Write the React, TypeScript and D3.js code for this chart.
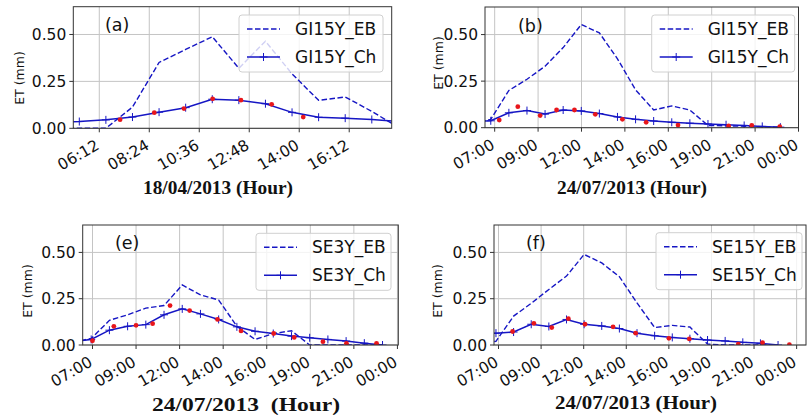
import React from "react";
import * as d3 from "d3";

// ---------- tick labels ----------
const ticksA = ["06:12", "08:24", "10:36", "12:48", "14:00", "16:12"];
const ticksDay = ["07:00", "09:00", "12:00", "14:00", "16:00", "19:00", "21:00", "00:00"];
const yTicks = [0, 0.25, 0.5];

// ---------- panel (a) 18/04/2013 ----------
const xA = [-0.932, -0.4, 0.132, 0.664, 1.196, 1.728, 2.26, 2.792, 3.324, 3.856, 4.388, 4.92, 5.452, 5.984];
const ebA = [0, 0, 0, 0.113, 0.351, 0.42, 0.488, 0.32, 0.464, 0.29, 0.149, 0.167, 0.09, 0.005];
const chA = [0.034, 0.036, 0.045, 0.06, 0.086, 0.11, 0.155, 0.15, 0.131, 0.085, 0.059, 0.054, 0.047, 0.036];
const obsXA = [0.416, 1.1, 1.694, 2.268, 2.834, 3.448, 4.08];
const obsA = [0.046, 0.083, 0.105, 0.157, 0.15, 0.128, 0.06];

// ---------- panel (b) 24/07/2013 GI15Y ----------
const xB = [-0.507, -0.09, 0.327, 0.744, 1.161, 1.578, 1.995, 2.412, 2.829, 3.246, 3.663, 4.08, 4.497, 4.914, 5.331, 5.748, 6.165, 6.582];
const ebB = [0.02, 0.045, 0.2, 0.26, 0.33, 0.43, 0.554, 0.509, 0.37, 0.203, 0.095, 0.117, 0.095, 0.012, 0.01, 0.008, 0.005, 0.003];
const chB = [0.035, 0.037, 0.08, 0.092, 0.073, 0.095, 0.09, 0.076, 0.058, 0.045, 0.036, 0.029, 0.024, 0.02, 0.016, 0.012, 0.007, 0.003];
const obsXB = [0.105, 0.533, 1.048, 1.426, 1.838, 2.318, 2.943, 3.49, 4.224, 5.39, 5.923, 6.568];
const obsB = [0.041, 0.113, 0.065, 0.095, 0.095, 0.072, 0.045, 0.029, 0.014, 0.009, 0.013, 0.005];

// ---------- panel (e) 24/07/2013 SE3Y ----------
const xE = [-0.448, -0.03, 0.388, 0.806, 1.224, 1.642, 2.06, 2.478, 2.896, 3.314, 3.732, 4.15, 4.568, 4.986, 5.404, 5.822, 6.24, 6.658];
const ebE = [0.015, 0.035, 0.133, 0.163, 0.199, 0.213, 0.324, 0.271, 0.243, 0.101, 0.03, 0.062, 0.077, 0, 0, 0, 0, 0];
const chE = [0.018, 0.03, 0.08, 0.101, 0.11, 0.163, 0.195, 0.168, 0.138, 0.098, 0.074, 0.062, 0.048, 0.039, 0.03, 0.021, 0.01, 0];
const obsXE = [0.0, 0.49, 1.0, 1.38, 1.78, 2.23, 2.87, 3.41, 4.16, 4.63, 5.29, 5.83, 6.52];
const obsE = [0.023, 0.101, 0.106, 0.115, 0.213, 0.186, 0.138, 0.076, 0.062, 0.041, 0.018, 0.009, 0.009];

// ---------- panel (f) 24/07/2013 SE15Y ----------
const xF = [-0.474, -0.06, 0.354, 0.768, 1.182, 1.596, 2.01, 2.424, 2.838, 3.252, 3.666, 4.08, 4.494, 4.908, 5.322, 5.736, 6.15, 6.564];
const ebF = [0.01, 0.02, 0.156, 0.225, 0.3, 0.372, 0.489, 0.443, 0.369, 0.227, 0.094, 0.106, 0.097, 0.005, 0, 0, 0, 0];
const chF = [0.062, 0.064, 0.07, 0.112, 0.1, 0.138, 0.112, 0.103, 0.089, 0.064, 0.05, 0.041, 0.034, 0.027, 0.022, 0.0144, 0.009, 0];
const obsXF = [0.33, 0.83, 1.25, 1.64, 2.03, 2.69, 3.22, 4.0, 4.48, 5.63, 6.2, 6.83];
const obsF = [0.073, 0.117, 0.094, 0.142, 0.112, 0.098, 0.064, 0.036, 0.033, 0.005, 0.0126, 0.002];

const BLUE = "#1616c4";
const RED = "#e8161b";
const GRID = "#c4c4c4";
const SPINE = "#333";
const SANS = "'DejaVu Sans', sans-serif";
const SERIF = "'Liberation Serif', 'Times New Roman', serif";

type PanelProps = {
  id: string;
  box: { left: number; right: number; top: number; bottom: number };
  xDomain: [number, number];
  ticks: string[];
  xs: number[];
  eb: number[];
  ch: number[];
  obsX: number[];
  obs: number[];
  ebName: string;
  chName: string;
  tag: string;
  tagPos: [number, number];
  xlabel: string;
  xlabelPos: [number, number, number];
  ylabelPos: [number, number];
  legend: { left: number; top: number; w: number; h: number };
};

function Panel(p: PanelProps) {
  const { left, right, top, bottom } = p.box;
  const x = d3.scaleLinear().domain(p.xDomain).range([left, right]);
  const y = d3.scaleLinear().domain([0, 0.648]).range([bottom, top]);
  const ebPts: [number, number][] = p.xs.map((v, i) => [v, p.eb[i]]);
  const chPts: [number, number][] = p.xs.map((v, i) => [v, p.ch[i]]);
  const line = d3
    .line<[number, number]>()
    .x((d) => x(d[0]))
    .y((d) => y(d[1]));
  const clipId = `clip-${p.id}`;
  const tickPos = p.ticks.map((_, i) => i);
  const lg = p.legend;
  const row1 = lg.top + 14;
  const row2 = lg.top + 42;
  return (
    <g>
      <defs>
        <clipPath id={clipId}>
          <rect x={left} y={top} width={right - left} height={bottom - top} />
        </clipPath>
      </defs>
      {/* grid */}
      {tickPos.map((t) => (
        <line key={"gx" + t} x1={x(t)} x2={x(t)} y1={top} y2={bottom} stroke={GRID} strokeWidth={1} />
      ))}
      {yTicks.map((t) => (
        <line key={"gy" + t} x1={left} x2={right} y1={y(t)} y2={y(t)} stroke={GRID} strokeWidth={1} />
      ))}
      {/* data */}
      <g clipPath={`url(#${clipId})`}>
        <path d={line(ebPts) || ""} fill="none" stroke={BLUE} strokeWidth={1.4} strokeDasharray="5.5,2.5" />
        <path d={line(chPts) || ""} fill="none" stroke={BLUE} strokeWidth={1.5} />
        {chPts.map((d, i) => (
          <path
            key={"m" + i}
            transform={`translate(${x(d[0])},${y(d[1])})`}
            d="M-4,0H4M0,-4V4"
            stroke={BLUE}
            strokeWidth={1}
          />
        ))}
        {p.obsX.map((v, i) => (
          <circle key={"o" + i} cx={x(v)} cy={y(p.obs[i])} r={2.4} fill={RED} />
        ))}
      </g>
      {/* spines */}
      <rect x={left} y={top} width={right - left} height={bottom - top} fill="none" stroke={SPINE} strokeWidth={1} />
      {/* y ticks */}
      {yTicks.map((t) => (
        <g key={"yt" + t}>
          <line x1={left - 4} x2={left} y1={y(t)} y2={y(t)} stroke={SPINE} />
          <text x={left - 7} y={y(t)} dy="0.36em" textAnchor="end" fontFamily={SANS} fontSize={15.5} fill="#111">
            {t.toFixed(2)}
          </text>
        </g>
      ))}
      {/* x ticks */}
      {tickPos.map((t) => (
        <g key={"xt" + t}>
          <line x1={x(t)} x2={x(t)} y1={bottom} y2={bottom + 4} stroke={SPINE} />
          <text
            transform={`translate(${x(t) + 1},${bottom + 20}) rotate(-30)`}
            textAnchor="end"
            fontFamily={SANS}
            fontSize={15.5}
            fill="#111"
          >
            {p.ticks[t]}
          </text>
        </g>
      ))}
      {/* legend */}
      <rect x={lg.left} y={lg.top} width={lg.w} height={lg.h} rx={3} fill="white" fillOpacity={0.8} stroke="#d0d0d0" />
      <line x1={lg.left + 8} x2={lg.left + 41} y1={row1} y2={row1} stroke={BLUE} strokeWidth={1.4} strokeDasharray="5.5,2.5" />
      <text x={lg.left + 56} y={row1} dy="0.36em" fontFamily={SANS} fontSize={17} fill="#111">
        {p.ebName}
      </text>
      <line x1={lg.left + 8} x2={lg.left + 41} y1={row2} y2={row2} stroke={BLUE} strokeWidth={1.5} />
      <path transform={`translate(${lg.left + 24.5},${row2})`} d="M-4,0H4M0,-4V4" stroke={BLUE} strokeWidth={1} />
      <text x={lg.left + 56} y={row2} dy="0.36em" fontFamily={SANS} fontSize={17} fill="#111">
        {p.chName}
      </text>
      {/* panel tag */}
      <text x={p.tagPos[0]} y={p.tagPos[1]} fontFamily={SANS} fontSize={17.5} fill="#111">
        {p.tag}
      </text>
      {/* axis labels */}
      <text
        x={p.xlabelPos[0]}
        y={p.xlabelPos[1]}
        textAnchor="middle"
        fontFamily={SERIF}
        fontWeight="bold"
        fontSize={19}
        textLength={p.xlabelPos[2]}
        lengthAdjust="spacingAndGlyphs"
        style={{ whiteSpace: "pre" }}
        fill="#111"
      >
        {p.xlabel}
      </text>
      <text
        transform={`translate(${p.ylabelPos[0]},${p.ylabelPos[1]}) rotate(-90)`}
        textAnchor="middle"
        dy="0.36em"
        fontFamily={SANS}
        fontSize={12.5}
        fill="#111"
      >
        ET (mm)
      </text>
    </g>
  );
}

export default function App() {
  return (
    <svg
      width={807}
      height={415}
      viewBox="0 0 807 415"
      style={{ position: "absolute", left: 0, top: 0, background: "white" }}
    >
      <rect width={807} height={415} fill="white" />
      <Panel
        id="a"
        box={{ left: 73.3, right: 391.7, top: 6.7, bottom: 128.3 }}
        xDomain={[-0.52, 5.85]}
        ticks={ticksA}
        xs={xA}
        eb={ebA}
        ch={chA}
        obsX={obsXA}
        obs={obsA}
        ebName="GI15Y_EB"
        chName="GI15Y_Ch"
        tag="(a)"
        tagPos={[105, 31]}
        xlabel="18/04/2013 (Hour)"
        xlabelPos={[218, 194, 150]}
        ylabelPos={[19, 78]}
        legend={{ left: 239, top: 15, w: 144, h: 57 }}
      />
      <Panel
        id="b"
        box={{ left: 485, right: 798.5, top: 7, bottom: 127.7 }}
        xDomain={[-0.223, 7.0]}
        ticks={ticksDay}
        xs={xB}
        eb={ebB}
        ch={chB}
        obsX={obsXB}
        obs={obsB}
        ebName="GI15Y_EB"
        chName="GI15Y_Ch"
        tag="(b)"
        tagPos={[518, 32]}
        xlabel="24/07/2013 (Hour)"
        xlabelPos={[632, 194, 150]}
        ylabelPos={[438, 63]}
        legend={{ left: 651.7, top: 15, w: 143, h: 57 }}
      />
      <Panel
        id="e"
        box={{ left: 82.7, right: 398.3, top: 225, bottom: 345 }}
        xDomain={[-0.225, 7.02]}
        ticks={ticksDay}
        xs={xE}
        eb={ebE}
        ch={chE}
        obsX={obsXE}
        obs={obsE}
        ebName="SE3Y_EB"
        chName="SE3Y_Ch"
        tag="(e)"
        tagPos={[115, 249]}
        xlabel="24/07/2013  (Hour)"
        xlabelPos={[246, 411, 188]}
        ylabelPos={[27, 291]}
        legend={{ left: 256, top: 233.3, w: 135, h: 57 }}
      />
      <Panel
        id="f"
        box={{ left: 494, right: 806, top: 225, bottom: 345 }}
        xDomain={[-0.106, 7.22]}
        ticks={ticksDay}
        xs={xF}
        eb={ebF}
        ch={chF}
        obsX={obsXF}
        obs={obsF}
        ebName="SE15Y_EB"
        chName="SE15Y_Ch"
        tag="(f)"
        tagPos={[526, 249]}
        xlabel="24/07/2013 (Hour)"
        xlabelPos={[636, 409, 162]}
        ylabelPos={[437.5, 291]}
        legend={{ left: 656, top: 232.7, w: 146, h: 57 }}
      />
    </svg>
  );
}
